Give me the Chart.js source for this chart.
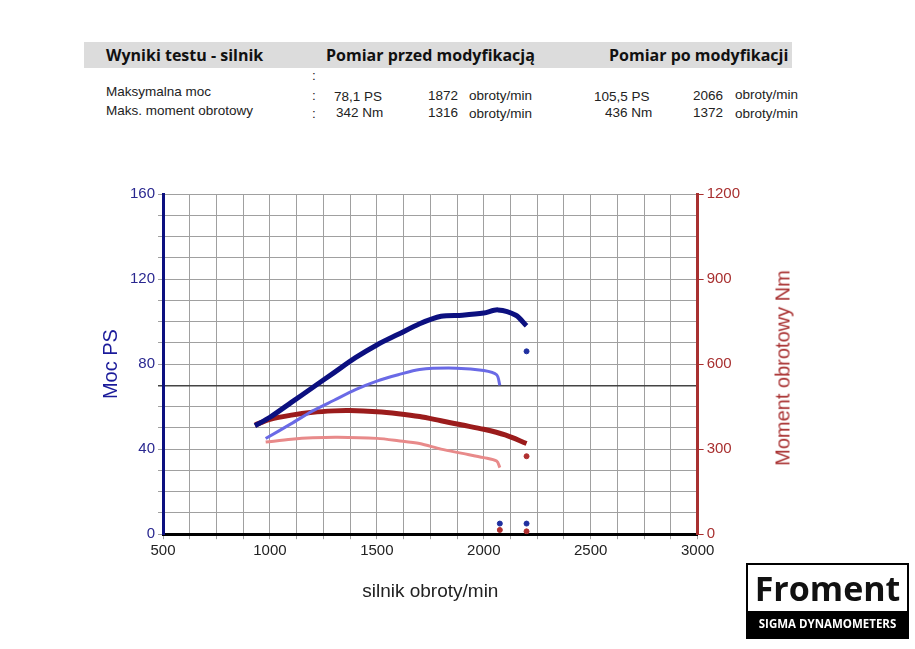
<!DOCTYPE html>
<html lang="pl">
<head>
<meta charset="UTF-8">
<title>Wyniki testu - silnik</title>
<script src="https://cdn.jsdelivr.net/npm/chart.js@4.4.0/dist/chart.umd.min.js"></script>
<style>
    body { margin: 0; width: 915px; height: 649px; background: #fff; font-family: "Liberation Sans", Arial, sans-serif; position: relative; overflow: hidden; }
    .bar { position: absolute; left: 84px; top: 42px; width: 708px; height: 26px; background: #dcdcdc; }
    .t { position: absolute; white-space: nowrap; }
    .h { font-family: "Open Sans", sans-serif; font-weight: bold; font-size: 16px; color: #111; top: 44px; }
    .s { font-size: 13.5px; color: #222; }
    #wrap { position: absolute; left: 95px; top: 182px; width: 705px; height: 421px; }
    .rt { position: absolute; left: 783px; top: 368px; transform: translate(-50%, -50%) rotate(-90deg); font-size: 20px; color: #a83030; white-space: nowrap; }
    .logo { position: absolute; left: 746px; top: 563px; width: 159px; height: 72px; border: 2px solid #000; }
    .logo .f { font-family: "Open Sans", sans-serif; font-weight: bold; font-size: 34px; text-align: center; line-height: 46px; color: #111; }
    .logo .d { background: #000; color: #fff; font-family: "Open Sans", sans-serif; font-weight: bold; font-size: 11.5px; text-align: center; line-height: 26px; }
</style>
</head>
<body>
<div class="bar"></div>
<div class="t h" style="left:106px">Wyniki testu - silnik</div>
<div class="t h" style="left:326px">Pomiar przed modyfikacją</div>
<div class="t h" style="left:609px">Pomiar po modyfikacji</div>
<div class="t s" style="left:312px;top:68px">:</div>
<div class="t s" style="left:106px;top:84px">Maksymalna moc</div>
<div class="t s" style="left:106px;top:103px">Maks. moment obrotowy</div>
<div class="t s" style="left:312px;top:88px">:</div>
<div class="t s" style="left:312px;top:106px">:</div>
<div class="t s" style="left:334px;top:89px">78,1 PS</div>
<div class="t s" style="left:336px;top:105px">342 Nm</div>
<div class="t s" style="left:428px;top:88px">1872</div>
<div class="t s" style="left:428px;top:105px">1316</div>
<div class="t s" style="left:469px;top:88px">obroty/min</div>
<div class="t s" style="left:469px;top:106px">obroty/min</div>
<div class="t s" style="left:594px;top:89px">105,5 PS</div>
<div class="t s" style="left:605px;top:105px">436 Nm</div>
<div class="t s" style="left:693px;top:88px">2066</div>
<div class="t s" style="left:693px;top:105px">1372</div>
<div class="t s" style="left:735px;top:87px">obroty/min</div>
<div class="t s" style="left:735px;top:106px">obroty/min</div>
<div id="wrap"><canvas id="c"></canvas></div>
<div class="rt">Moment obrotowy Nm</div>
<div class="logo"><div class="f">Froment</div><div class="d">SIGMA DYNAMOMETERS</div></div>
<script>
// obroty/min i wartości
const rpmPowerAfter = [930, 1000, 1100, 1200, 1300, 1400, 1500, 1600, 1700, 1800, 1900, 2000, 2066, 2150, 2200];
const powerAfter    = [51, 55, 62, 69, 76, 83, 89, 94, 99, 102.5, 103, 104, 105.5, 103, 98];
const rpmPowerBefore = [980, 1100, 1200, 1300, 1400, 1500, 1600, 1700, 1872, 2000, 2060, 2075];
const powerBefore    = [45, 52, 58, 63, 68, 72, 75, 77.5, 78.1, 77, 75, 70];
const rpmTorqueAfter = [930, 1000, 1100, 1200, 1300, 1372, 1500, 1600, 1700, 1800, 1900, 2000, 2100, 2200];
const torqueAfter    = [385, 405, 420, 430, 435, 436, 432, 425, 415, 400, 385, 370, 350, 320];
const rpmTorqueBefore = [980, 1100, 1200, 1316, 1500, 1600, 1700, 1800, 1900, 2000, 2060, 2075];
const torqueBefore    = [325, 335, 340, 342, 338, 330, 320, 300, 285, 270, 258, 235];
const strayPower  = [[2200, 86], [2200, 5], [2075, 5]];
const strayTorque = [[2200, 275], [2200, 10], [2075, 15]];

const pts = (xs, ys) => xs.map((x, i) => ({ x: x, y: ys[i] }));
const line = (data, color, w, axis) => ({ data: data, borderColor: color, borderWidth: w, showLine: true, pointRadius: 0, yAxisID: axis, tension: 0.3 });
const dots = (arr, color, axis) => ({ data: arr.map(p => ({ x: p[0], y: p[1] })), showLine: false, pointRadius: 2.5, backgroundColor: color, borderColor: color, yAxisID: axis });

new Chart(document.getElementById('c'), {
    type: 'scatter',
    data: {
        datasets: [
            line(pts(rpmPowerAfter, powerAfter), '#0c1080', 5, 'y'),
            line(pts(rpmPowerBefore, powerBefore), '#6a6ae6', 3, 'y'),
            line(pts(rpmTorqueAfter, torqueAfter), '#9b1c1c', 5, 'y1'),
            line(pts(rpmTorqueBefore, torqueBefore), '#e88a8a', 3, 'y1'),
            dots(strayPower, '#2030a0', 'y'),
            dots(strayTorque, '#b03030', 'y1')
        ]
    },
    options: {
        responsive: true, maintainAspectRatio: false, animation: false,
        layout: { padding: { top: 11, right: 57 } },
        plugins: { legend: { display: false }, tooltip: { enabled: false } },
        scales: {
            x: {
                min: 500, max: 3000,
                ticks: { stepSize: 125, color: '#222', font: { family: 'Liberation Sans', size: 15 }, callback: v => v % 500 === 0 ? v : '' , autoSkip: false, maxRotation: 0 },
                grid: { color: '#a0a0a0', tickLength: 5 },
                border: { color: '#000', width: 3 },
                title: { display: true, text: 'silnik obroty/min', color: '#222', font: { family: 'Liberation Sans', size: 19 }, padding: { top: 17, bottom: 0 } }
            },
            y: {
                position: 'left', min: 0, max: 160,
                ticks: { stepSize: 10, color: '#2a2890', font: { family: 'Liberation Sans', size: 15 }, callback: v => v % 40 === 0 ? v : '', autoSkip: false },
                grid: { color: ctx => ctx.tick && ctx.tick.value === 70 ? '#444' : '#a0a0a0', lineWidth: ctx => ctx.tick && ctx.tick.value === 70 ? 1.5 : 1, tickLength: 5 },
                border: { color: '#0c1080', width: 3 },
                title: { display: true, text: 'Moc PS', color: '#1a1a9a', font: { family: 'Liberation Sans', size: 20 } }
            },
            y1: {
                position: 'right', min: 0, max: 1200,
                ticks: { stepSize: 300, color: '#a83030', font: { family: 'Liberation Sans', size: 15 }, callback: v => String(v) },
                grid: { drawOnChartArea: false, color: '#a83030', tickLength: 6 },
                border: { color: '#a83030', width: 3 }
            }
        }
    }
});
</script>
</body>
</html>
